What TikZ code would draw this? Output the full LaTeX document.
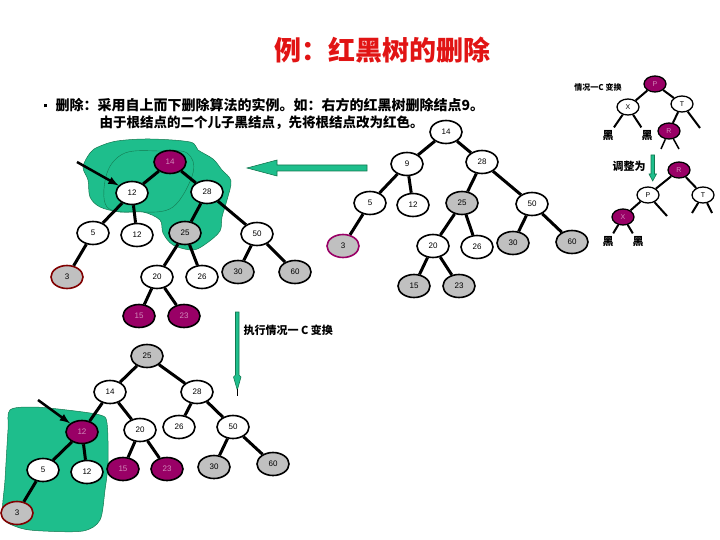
\documentclass[tikz,border=0pt]{standalone}
\usepackage{fontspec}
\setmainfont{Liberation Sans}
\newfontfamily\cjk{Noto Sans CJK SC}
\usetikzlibrary{shapes.geometric}
\definecolor{magfill}{RGB}{153,0,102}
\definecolor{grayfill}{RGB}{192,192,192}
\definecolor{blobgreen}{RGB}{30,190,140}
\definecolor{blobline}{RGB}{20,120,80}
\definecolor{darkred}{RGB}{128,0,0}
\definecolor{titlered}{RGB}{225,20,20}
\begin{document}
\begin{tikzpicture}[x=1pt,y=-1pt,font=\fontsize{8}{9}\selectfont,>=latex,
  wn/.style={ellipse,draw,line width=1.6pt,fill=white,minimum width=32pt,minimum height=23pt,inner sep=0pt},
  rn/.style={wn,fill=magfill,text=magfill!45!white},
  gn/.style={wn,fill=grayfill},
  sn/.style={ellipse,draw,line width=1.3pt,fill=white,minimum width=22pt,minimum height=16pt,inner sep=0pt,font=\fontsize{7}{8}\selectfont},
  srn/.style={sn,fill=magfill,text=magfill!45!white},
  tlink/.style={line width=3pt},
  slink/.style={line width=2pt},
  hei/.style={font=\cjk\bfseries\fontsize{11}{12}\selectfont},
  blob/.style={fill=blobgreen,draw=blobline,line width=0.5pt},
  tealarrow/.style={fill=blobgreen,draw=blobline,line width=0.6pt}]
\useasboundingbox (0,0) rectangle (720,540);

\node[text=titlered,font=\cjk\bfseries\fontsize{27}{29}\selectfont] (title) at (382,50) {例：红黑树的删除};
\node[anchor=west,font=\cjk\bfseries\fontsize{14}{16}\selectfont] (txt1) at (40,105) {\rule[3pt]{3pt}{3pt}\hspace{9pt}删除：采用自上而下删除算法的实例。如：右方的红黑树删除结点9。};
\node[anchor=west,font=\cjk\bfseries\fontsize{13.5}{15}\selectfont] (txt2) at (96,123) {由于根结点的二个儿子黑结点，先将根结点改为红色。};

% left tree
\draw[blob] plot[smooth cycle,tension=0.55] coordinates {(98,147) (117,141) (150,139) (190,142) (198,150) (213,159) (222,170) (231,181) (227,200) (222,217) (220,231) (207,243) (193,250) (173,245) (163,233) (160,220) (143,212) (120,212) (100,207) (90,197) (88,180) (83,167) (90,153)};
\draw[blobline] plot[smooth cycle,tension=0.6] coordinates {(107,173) (125,153) (160,151) (187,153) (193,173) (173,207) (140,212) (107,207)};
\node[rn] (lt14) at (170,162) {14};
\node[wn] (lt12a) at (132,193) {12};
\node[wn] (lt28) at (207,192) {28};
\node[wn] (lt5) at (93,233) {5};
\node[wn] (lt12b) at (137,235) {12};
\node[gn] (lt25) at (185,233) {25};
\node[wn] (lt50) at (257,234) {50};
\node[gn,draw=darkred] (lt3) at (67,277) {3};
\node[wn] (lt20) at (157,277) {20};
\node[wn] (lt26) at (202,277) {26};
\node[gn] (lt30) at (238,272) {30};
\node[gn] (lt60) at (295,272) {60};
\node[rn] (lt15) at (139,316) {15};
\node[rn] (lt23) at (184,316) {23};
\draw[tlink] (lt14)--(lt12a) (lt14)--(lt28) (lt12a)--(lt5) (lt12a)--(lt12b)
  (lt28)--(lt25) (lt28)--(lt50) (lt5)--(lt3) (lt25)--(lt20) (lt25)--(lt26)
  (lt50)--(lt30) (lt50)--(lt60) (lt20)--(lt15) (lt20)--(lt23);
\coordinate (lp) at (77,162);
\draw[->,line width=2.5pt] (lp)--(lt12a);

% right tree
\node[wn] (rt14) at (446,132) {14};
\node[wn] (rt9) at (407,164) {9};
\node[wn] (rt28) at (482,162) {28};
\node[wn] (rt5) at (370,203) {5};
\node[wn] (rt12) at (413,205) {12};
\node[gn] (rt25) at (462,203) {25};
\node[wn] (rt50) at (532,204) {50};
\node[gn,draw=magfill] (rt3) at (343,246) {3};
\node[wn] (rt20) at (433,246) {20};
\node[wn] (rt26) at (477,247) {26};
\node[gn] (rt30) at (513,243) {30};
\node[gn] (rt60) at (572,242) {60};
\node[gn] (rt15) at (414,286) {15};
\node[gn] (rt23) at (459,286) {23};
\draw[tlink] (rt14)--(rt9) (rt14)--(rt28) (rt9)--(rt5) (rt9)--(rt12)
  (rt28)--(rt25) (rt28)--(rt50) (rt5)--(rt3) (rt25)--(rt20) (rt25)--(rt26)
  (rt50)--(rt30) (rt50)--(rt60) (rt20)--(rt15) (rt20)--(rt23);

\draw[tealarrow] (247,168)--(277,160)--(277,165)--(367,165)--(367,171)--(277,171)--(277,176)--cycle;

% case C
\node[font=\cjk\bfseries\fontsize{8}{9}\selectfont] (ctxt) at (598,87) {情况一C 变换};
\node[srn] (cP) at (655,84) {P};
\node[sn] (cX) at (628,107) {X};
\node[sn] (cT) at (682,104) {T};
\node[srn] (cR) at (669,131) {R};
\node[hei] (ch1) at (608,136) {黑};
\node[hei] (ch2) at (647,136) {黑};
\coordinate (cT1) at (700,128);
\coordinate (cR1) at (661,149);
\coordinate (cR2) at (679,149);
\draw[slink] (cP)--(cX) (cP)--(cT) (cX)--(ch1) (cX)--(ch2) (cT)--(cR) (cT)--(cT1);
\draw[line width=1.5pt] (cR)--(cR1) (cR)--(cR2);
\node[hei] (adj) at (629,166) {调整为};
\draw[tealarrow] (651,155)--(654.5,155)--(654.5,174)--(656.5,174)--(652.7,181)--(649,174)--(651,174)--cycle;
\node[srn] (dR) at (679,170) {R};
\node[sn] (dP) at (648,195) {P};
\node[sn] (dT) at (703,195) {T};
\node[srn] (dX) at (623,217) {X};
\node[hei] (dh1) at (608,242) {黑};
\node[hei] (dh2) at (638,242) {黑};
\coordinate (dP1) at (667,216);
\coordinate (dT1) at (692,213);
\coordinate (dT2) at (712,213);
\draw[slink] (dR)--(dP) (dR)--(dT) (dP)--(dX) (dP)--(dP1) (dT)--(dT1) (dT)--(dT2) (dX)--(dh1) (dX)--(dh2);

% after case C
\draw[tealarrow] (235.5,312)--(239,312)--(239,375)--(241,377)--(237.3,390)--(233.5,377)--(235.5,375)--cycle;
\draw[line width=0.8pt] (237.3,389)--(237.3,396);
\node[anchor=west,font=\cjk\bfseries\fontsize{11}{12}\selectfont] (runC) at (240,330) {执行情况一 C 变换};

\draw[blob] plot[smooth cycle,tension=0.5] coordinates {(10,410) (33,407) (67,410) (100,415) (107,423) (108,463) (105,490) (100,520) (83,531) (43,531) (20,528) (3,517) (5,480) (8,430)};
\node[gn] (bt25) at (147,356) {25};
\node[wn] (bt14) at (110,392) {14};
\node[wn] (bt28) at (197,392) {28};
\node[rn] (bt12a) at (82,432) {12};
\node[wn] (bt20) at (140,430) {20};
\node[wn] (bt26) at (179,427) {26};
\node[wn] (bt50) at (233,427) {50};
\node[wn] (bt5) at (43,470) {5};
\node[wn] (bt12b) at (87,472) {12};
\node[rn] (bt15) at (123,469) {15};
\node[rn] (bt23) at (167,469) {23};
\node[gn] (bt30) at (214,467) {30};
\node[gn] (bt60) at (273,464) {60};
\node[gn,draw=darkred] (bt3) at (17,513) {3};
\draw[tlink] (bt25)--(bt14) (bt25)--(bt28) (bt14)--(bt12a) (bt14)--(bt20)
  (bt28)--(bt26) (bt28)--(bt50) (bt12a)--(bt5) (bt12a)--(bt12b)
  (bt20)--(bt15) (bt20)--(bt23) (bt50)--(bt30) (bt50)--(bt60) (bt5)--(bt3);
\coordinate (bp) at (38,400);
\draw[->,line width=2.5pt] (bp)--(bt12a);
\end{tikzpicture}
\end{document}
